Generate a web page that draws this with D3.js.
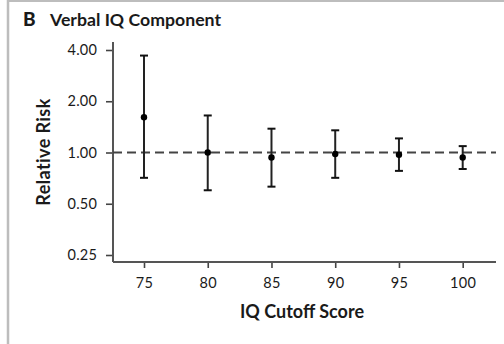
<!DOCTYPE html>
<html><head><meta charset="utf-8">
<script src="https://cdn.jsdelivr.net/npm/d3@7"></script>
<style>body{margin:0;background:#fff}svg{display:block}text{font-family:Lato,"Open Sans",sans-serif;fill:#1a1a1a}</style>
</head><body>
<script>
const cutoffs = [75, 80, 85, 90, 95, 100];
const rr = [1.61, 1.00, 0.935, 0.98, 0.97, 0.935];
const lower = [0.71, 0.60, 0.63, 0.71, 0.78, 0.80];
const upper = [3.71, 1.65, 1.38, 1.35, 1.21, 1.09];
const yTicks = [0.25, 0.5, 1, 2, 4];
const xTicks = [75, 80, 85, 90, 95, 100];

const W = 504, H = 344;
const svg = d3.select("body").append("svg").attr("width", W).attr("height", H);

// frame
svg.append("line").attr("x1", 8).attr("x2", W).attr("y1", 1).attr("y2", 1).attr("stroke", "#bdbdbd").attr("stroke-width", 2);
svg.append("line").attr("x1", 8).attr("x2", 8).attr("y1", 0).attr("y2", H).attr("stroke", "#bdbdbd").attr("stroke-width", 2.5);

// title
svg.append("text").attr("x", 23).attr("y", 26).attr("font-weight", 900).attr("font-size", 19).text("B");
svg.append("text").attr("x", 50).attr("y", 26).attr("font-weight", 700).attr("font-size", 17.7).text("Verbal IQ Component");

const x = d3.scaleLinear().domain([75, 100]).range([144, 462.7]);
const y = d3.scaleLog().domain([0.25, 4]).range([255, 50]);

const axL = 113, axB = 262, axR = 496, axT = 42;

// y axis ticks
const ya = svg.append("g").attr("transform", `translate(${axL},0)`)
  .call(d3.axisLeft(y).tickValues(yTicks).tickFormat(d3.format(".2f")).tickSize(7).tickPadding(9));
ya.select(".domain").remove();
ya.selectAll("line").attr("stroke", "#444").attr("stroke-width", 1.6);
ya.selectAll("text").attr("font-size", 14.5).attr("font-family", "Lato, sans-serif").attr("fill", "#1a1a1a").attr("letter-spacing", 0.2);

// x axis ticks
const xa = svg.append("g").attr("transform", `translate(0,${axB})`)
  .call(d3.axisBottom(x).tickValues(xTicks).tickSize(6).tickPadding(10));
xa.select(".domain").remove();
xa.selectAll("line").attr("stroke", "#444").attr("stroke-width", 1.6);
xa.selectAll("text").attr("font-size", 14.5).attr("font-family", "Lato, sans-serif").attr("fill", "#1a1a1a").attr("letter-spacing", 0.4);

// axis lines
svg.append("line").attr("x1", axL).attr("x2", axL).attr("y1", axT).attr("y2", axB).attr("stroke", "#555").attr("stroke-width", 2);
svg.append("line").attr("x1", axL).attr("x2", axR).attr("y1", axB).attr("y2", axB).attr("stroke", "#555").attr("stroke-width", 2);

// reference line
svg.append("line").attr("x1", axL).attr("x2", axR).attr("y1", y(1)).attr("y2", y(1))
  .attr("stroke", "#444").attr("stroke-width", 2).attr("stroke-dasharray", "9,5");

// error bars
const data = cutoffs.map((c, i) => ({c, v: rr[i], lo: lower[i], hi: upper[i]}));
const g = svg.append("g");
g.selectAll(".eb").data(data).join("line").attr("x1", d => x(d.c)).attr("x2", d => x(d.c))
  .attr("y1", d => y(d.lo)).attr("y2", d => y(d.hi)).attr("stroke", "#222").attr("stroke-width", 2);
g.selectAll(".capT").data(data).join("line").attr("x1", d => x(d.c) - 4).attr("x2", d => x(d.c) + 4)
  .attr("y1", d => y(d.hi)).attr("y2", d => y(d.hi)).attr("stroke", "#111").attr("stroke-width", 2);
g.selectAll(".capB").data(data).join("line").attr("x1", d => x(d.c) - 4).attr("x2", d => x(d.c) + 4)
  .attr("y1", d => y(d.lo)).attr("y2", d => y(d.lo)).attr("stroke", "#111").attr("stroke-width", 2);
g.selectAll("circle").data(data).join("circle").attr("cx", d => x(d.c)).attr("cy", d => y(d.v)).attr("r", 3.2).attr("fill", "#000");

// axis titles
svg.append("text").attr("x", 302).attr("y", 318).attr("text-anchor", "middle").attr("font-weight", 700).attr("font-size", 18).text("IQ Cutoff Score");
svg.append("text").attr("transform", "translate(50,152) rotate(-90)").attr("text-anchor", "middle").attr("font-weight", 700).attr("font-size", 18).attr("letter-spacing", 0.4).text("Relative Risk");
</script>
</body></html>
